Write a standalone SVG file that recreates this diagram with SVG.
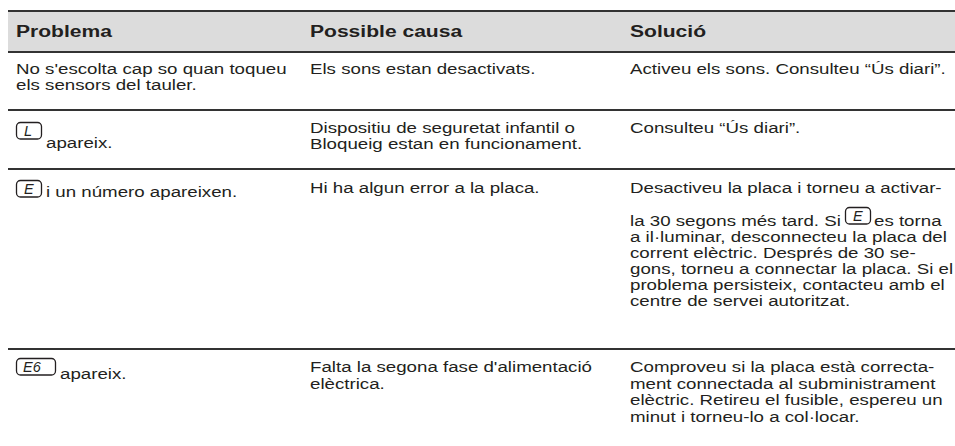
<svg xmlns="http://www.w3.org/2000/svg" width="955" height="446" viewBox="0 0 955 446">
<style>
text{font-family:"Liberation Sans",Arial,sans-serif;fill:#231f20}
.h{font-size:17px;font-weight:bold}
.b{font-size:14.5px}
.rule{stroke:#333;stroke-width:2}
.ico{fill:none;stroke:#231f20;stroke-width:1.3}
.seg{font-size:14.5px;font-style:italic}
</style>
<rect width="955" height="446" fill="#fff"/>
<g id="header">
<rect x="8" y="11" width="947" height="41" fill="#dcdcdc"/>
<text class="h" transform="translate(16 37) scale(1.24 1)">Problema</text>
<text class="h" transform="translate(310 37) scale(1.24 1)">Possible causa</text>
<text class="h" transform="translate(630 37) scale(1.24 1)">Solució</text>
</g>
<g id="rules">
<line class="rule" x1="8" y1="11" x2="955" y2="11"/>
<line class="rule" x1="8" y1="52" x2="955" y2="52"/>
<line class="rule" x1="8" y1="110" x2="955" y2="110"/>
<line class="rule" x1="8" y1="169" x2="955" y2="169"/>
<line class="rule" x1="8" y1="349" x2="955" y2="349"/>
</g>
<g id="row1">
<text class="b" transform="translate(16 74) scale(1.29 1)">No s'escolta cap so quan toqueu</text>
<text class="b" transform="translate(16 90) scale(1.29 1)">els sensors del tauler.</text>
<text class="b" transform="translate(310 74) scale(1.29 1)">Els sons estan desactivats.</text>
<text class="b" transform="translate(630 74) scale(1.29 1)">Activeu els sons. Consulteu “Ús diari”.</text>
</g>
<g id="row2">
<rect class="ico" x="16.5" y="122.5" width="25" height="16.5" rx="4"/>
<text class="seg" x="24" y="136">L</text>
<text class="b" transform="translate(46 148) scale(1.29 1)">apareix.</text>
<text class="b" transform="translate(310 133) scale(1.29 1)">Dispositiu de seguretat infantil o</text>
<text class="b" transform="translate(310 149) scale(1.29 1)">Bloqueig estan en funcionament.</text>
<text class="b" transform="translate(630 133) scale(1.29 1)">Consulteu “Ús diari”.</text>
</g>
<g id="row3">
<rect class="ico" x="16.5" y="180.5" width="25" height="16.5" rx="4"/>
<text class="seg" x="24" y="194">E</text>
<text class="b" transform="translate(46 197) scale(1.29 1)">i un número apareixen.</text>
<text class="b" transform="translate(310 193) scale(1.29 1)">Hi ha algun error a la placa.</text>
<text class="b" transform="translate(630 193) scale(1.29 1)">Desactiveu la placa i torneu a activar-</text>
<text class="b" transform="translate(630 226) scale(1.29 1)">la 30 segons més tard. Si</text>
<rect class="ico" x="845.5" y="207.5" width="25" height="16.5" rx="4"/>
<text class="seg" x="853" y="221">E</text>
<text class="b" transform="translate(874 226) scale(1.29 1)">es torna</text>
<text class="b" transform="translate(630 242) scale(1.29 1)">a il·luminar, desconnecteu la placa del</text>
<text class="b" transform="translate(630 258) scale(1.29 1)">corrent elèctric. Després de 30 se-</text>
<text class="b" transform="translate(630 274) scale(1.29 1)">gons, torneu a connectar la placa. Si el</text>
<text class="b" transform="translate(630 290) scale(1.29 1)">problema persisteix, contacteu amb el</text>
<text class="b" transform="translate(630 306) scale(1.29 1)">centre de servei autoritzat.</text>
</g>
<g id="row4">
<rect class="ico" x="16.5" y="358.5" width="39" height="16.5" rx="4"/>
<text class="seg" x="23" y="372">E6</text>
<text class="b" transform="translate(60 379) scale(1.29 1)">apareix.</text>
<text class="b" transform="translate(310 372) scale(1.29 1)">Falta la segona fase d'alimentació</text>
<text class="b" transform="translate(310 388.5) scale(1.29 1)">elèctrica.</text>
<text class="b" transform="translate(630 372) scale(1.29 1)">Comproveu si la placa està correcta-</text>
<text class="b" transform="translate(630 388.5) scale(1.29 1)">ment connectada al subministrament</text>
<text class="b" transform="translate(630 405) scale(1.29 1)">elèctric. Retireu el fusible, espereu un</text>
<text class="b" transform="translate(630 421.5) scale(1.29 1)">minut i torneu-lo a col·locar.</text>
</g>
</svg>
